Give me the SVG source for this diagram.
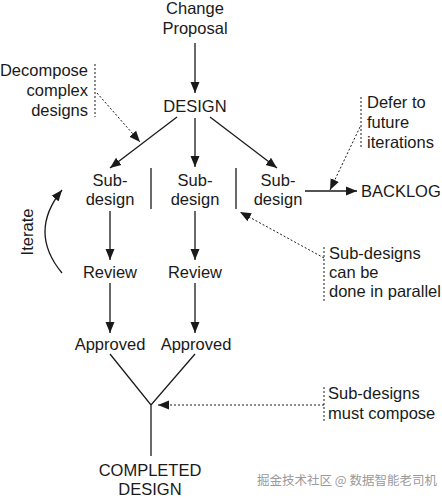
<svg xmlns="http://www.w3.org/2000/svg" width="442" height="500" viewBox="0 0 442 500">
<style>
text{font-family:"Liberation Sans",Arial,sans-serif;font-size:16.5px;fill:#1a1a1a}
.m{text-anchor:middle}
.e{text-anchor:end}
.ln{stroke:#1a1a1a;stroke-width:1.3;fill:none}
.dt{stroke:#1a1a1a;stroke-width:1;fill:none;stroke-dasharray:2 2}
.wm{font-family:"Noto Sans CJK SC",sans-serif;font-size:12.5px;fill:#9a9a9a}
</style>
<defs>
<marker id="ah" markerWidth="12" markerHeight="10" refX="11" refY="5" orient="auto" markerUnits="userSpaceOnUse">
<path d="M0,0.5 L11,5 L0,9.5 Z" fill="#1a1a1a"/>
</marker>
</defs>
<rect width="442" height="500" fill="#fff"/>
<g id="connectors">
<line class="ln" x1="195" y1="43" x2="195" y2="93" marker-end="url(#ah)"/>
<line class="ln" x1="177" y1="117" x2="110" y2="168" marker-end="url(#ah)"/>
<line class="ln" x1="195" y1="118" x2="195" y2="167" marker-end="url(#ah)"/>
<line class="ln" x1="210" y1="117" x2="277" y2="168" marker-end="url(#ah)"/>
<line class="ln" x1="305" y1="191" x2="357" y2="191" marker-end="url(#ah)"/>
<line class="ln" x1="110" y1="211" x2="110" y2="260" marker-end="url(#ah)"/>
<line class="ln" x1="195" y1="211" x2="195" y2="260" marker-end="url(#ah)"/>
<line class="ln" x1="110" y1="283" x2="110" y2="333" marker-end="url(#ah)"/>
<line class="ln" x1="195" y1="283" x2="195" y2="333" marker-end="url(#ah)"/>
<path class="ln" d="M62,273 Q28,232 62,190" marker-end="url(#ah)"/>
<path class="ln" d="M110,354 L151,405 L195,354 M151,405 L151,456"/>
<line class="ln" x1="151" y1="168" x2="151" y2="209"/>
<line class="ln" x1="236" y1="168" x2="236" y2="209"/>
<line class="dt" x1="97" y1="93" x2="140" y2="142" marker-end="url(#ah)"/>
<line class="dt" x1="360" y1="127" x2="330" y2="190" marker-end="url(#ah)"/>
<line class="dt" x1="324" y1="258" x2="240" y2="212" marker-end="url(#ah)"/>
<line class="dt" x1="324" y1="405" x2="158" y2="405" marker-end="url(#ah)"/>
<line class="dt" x1="95" y1="64" x2="95" y2="117"/>
<line class="dt" x1="361" y1="97" x2="361" y2="148"/>
<line class="dt" x1="324" y1="247" x2="324" y2="303"/>
<line class="dt" x1="324" y1="387" x2="324" y2="423"/>
</g>
<g id="change-proposal"><text class="m" x="195" y="14">Change</text><text class="m" x="195" y="34">Proposal</text></g>
<g id="design"><text class="m" x="195" y="112">DESIGN</text></g>
<g id="decompose-note"><text class="e" x="88" y="76">Decompose</text><text class="e" x="88" y="96">complex</text><text class="e" x="88" y="116">designs</text></g>
<g id="defer-note"><text x="367" y="108">Defer to</text><text x="367" y="128">future</text><text x="367" y="148">iterations</text></g>
<g id="subdesign1"><text class="m" x="110" y="186">Sub-</text><text class="m" x="110" y="205">design</text></g>
<g id="subdesign2"><text class="m" x="195" y="186">Sub-</text><text class="m" x="195" y="205">design</text></g>
<g id="subdesign3"><text class="m" x="278" y="186">Sub-</text><text class="m" x="278" y="205">design</text></g>
<g id="backlog"><text x="361" y="197">BACKLOG</text></g>
<g id="iterate"><text class="m" transform="translate(33,232) rotate(-90)">Iterate</text></g>
<g id="review1"><text class="m" x="110" y="278">Review</text></g>
<g id="review2"><text class="m" x="195" y="278">Review</text></g>
<g id="parallel-note"><text x="329" y="259">Sub-designs</text><text x="329" y="278">can be</text><text x="329" y="297">done in parallel</text></g>
<g id="approved1"><text class="m" x="110" y="350">Approved</text></g>
<g id="approved2"><text class="m" x="196" y="350">Approved</text></g>
<g id="compose-note"><text x="328" y="399">Sub-designs</text><text x="328" y="419">must compose</text></g>
<g id="completed"><text class="m" x="150" y="476">COMPLETED</text><text class="m" x="150" y="495">DESIGN</text></g>
<text class="wm" x="257" y="485">掘金技术社区 @ 数据智能老司机</text>
</svg>
